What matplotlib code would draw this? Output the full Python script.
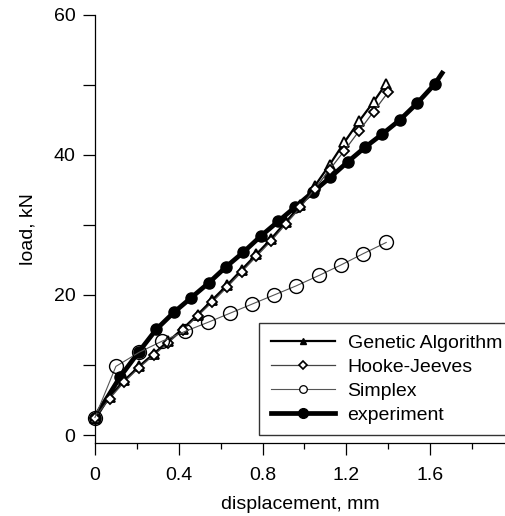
import matplotlib
matplotlib.use("Agg")
import matplotlib.pyplot as plt
from matplotlib.lines import Line2D
from matplotlib.ticker import MultipleLocator

plt.rcParams['font.family'] = ['Liberation Sans', 'DejaVu Sans']
plt.rcParams['font.size'] = 14

# experiment (filled circles), last point has no marker
exp_x = [0, 0.12, 0.21, 0.293, 0.376, 0.459, 0.542, 0.625, 0.708, 0.791, 0.874,
         0.957, 1.04, 1.123, 1.206, 1.289, 1.372, 1.455, 1.538, 1.621, 1.657]
exp_y = [2.5, 8.3, 11.9, 15.1, 17.5, 19.6, 21.7, 24.0, 26.1, 28.4, 30.5,
         32.6, 34.7, 36.8, 39.0, 41.1, 43.0, 45.0, 47.4, 50.1, 51.7]

# genetic algorithm (triangles)
ga_x = [0, 0.07, 0.14, 0.21, 0.28, 0.35, 0.42, 0.49, 0.56, 0.63, 0.70, 0.77,
        0.84, 0.91, 0.98, 1.05, 1.12, 1.19, 1.26, 1.33, 1.39]
ga_y = [2.5, 5.5, 7.8, 9.8, 11.6, 13.4, 15.2, 17.2, 19.3, 21.4, 23.6, 25.8,
        28.0, 30.4, 32.8, 35.6, 38.6, 41.8, 44.8, 47.6, 50.2]

# Hooke-Jeeves (diamonds)
hj_x = [0, 0.07, 0.14, 0.21, 0.28, 0.35, 0.42, 0.49, 0.56, 0.63, 0.70, 0.77,
        0.84, 0.91, 0.98, 1.05, 1.12, 1.19, 1.26, 1.33, 1.40]
hj_y = [2.5, 5.2, 7.6, 9.6, 11.4, 13.2, 15.0, 17.0, 19.0, 21.1, 23.3, 25.5,
        27.7, 30.1, 32.5, 35.2, 37.9, 40.6, 43.4, 46.2, 49.0]

# simplex (open circles)
sx_x = [0, 0.10, 0.21, 0.32, 0.43, 0.54, 0.645, 0.75, 0.855, 0.96, 1.07,
        1.175, 1.28, 1.39]
sx_y = [2.5, 9.8, 11.8, 13.4, 14.8, 16.1, 17.4, 18.7, 20.0, 21.3, 22.8,
        24.3, 25.9, 27.5]

fig = plt.figure(figsize=(5.05, 5.16), dpi=100)
ax = fig.add_axes([0.188, 0.1415, 0.812, 0.8295])

ax.plot(exp_x, exp_y, '-o', color='black', lw=3.4, ms=8, markevery=list(range(len(exp_x) - 1)),
        clip_on=False, zorder=2)
ax.plot(ga_x, ga_y, '-^', color='black', lw=1.6, ms=7, mfc='white', mec='black',
        mew=1.3, clip_on=False, zorder=3)
ax.plot(hj_x, hj_y, '-D', color='#444444', lw=0.9, ms=5.5, mfc='white', mec='black',
        mew=1.3, clip_on=False, zorder=4)
ax.plot(sx_x, sx_y, '-o', color='#555555', lw=0.8, ms=10, mfc='none', mec='black',
        mew=1.0, clip_on=False, zorder=5)

ax.set_xlim(0, 1.957)
ax.set_ylim(-1.14, 60)
ax.xaxis.set_minor_locator(MultipleLocator(0.2))
ax.yaxis.set_minor_locator(MultipleLocator(10))
ax.set_xticks([0, 0.4, 0.8, 1.2, 1.6])
ax.set_xticklabels(['0', '0.4', '0.8', '1.2', '1.6'])
ax.set_yticks([0, 20, 40, 60])

ax.spines['top'].set_visible(False)
ax.spines['right'].set_visible(False)
for s in ['left', 'bottom']:
    ax.spines[s].set_linewidth(0.9)
ax.tick_params(axis='x', which='major', direction='out', length=8.6, width=0.9, pad=9)
ax.tick_params(axis='x', which='minor', direction='out', length=4.3, width=0.9)
ax.tick_params(axis='y', which='both', direction='out', length=9, width=0.9, pad=5)

ax.set_xlabel('displacement, mm', labelpad=8)
ax.set_ylabel('load, kN', labelpad=12)

# legend with small markers like the original
handles = [
    Line2D([], [], color='black', lw=1.6, marker='^', ms=5),
    Line2D([], [], color='#444444', lw=0.9, marker='D', ms=4, mfc='white', mec='black', mew=1.2),
    Line2D([], [], color='#555555', lw=0.8, marker='o', ms=5.5, mfc='white', mec='black', mew=0.9),
    Line2D([], [], color='black', lw=3.4, marker='o', ms=7),
]
labels = ['Genetic Algorithm', 'Hooke-Jeeves', 'Simplex', 'experiment']
leg = fig.legend(handles, labels, loc='upper left', bbox_to_anchor=(0.513, 0.374),
                 borderaxespad=0, frameon=True, fancybox=False, handlelength=3.3,
                 handletextpad=0.65, borderpad=0.6, labelspacing=0.32)
leg.get_frame().set_edgecolor('black')
leg.get_frame().set_linewidth(1.0)

fig.savefig('out.png', dpi=100)
